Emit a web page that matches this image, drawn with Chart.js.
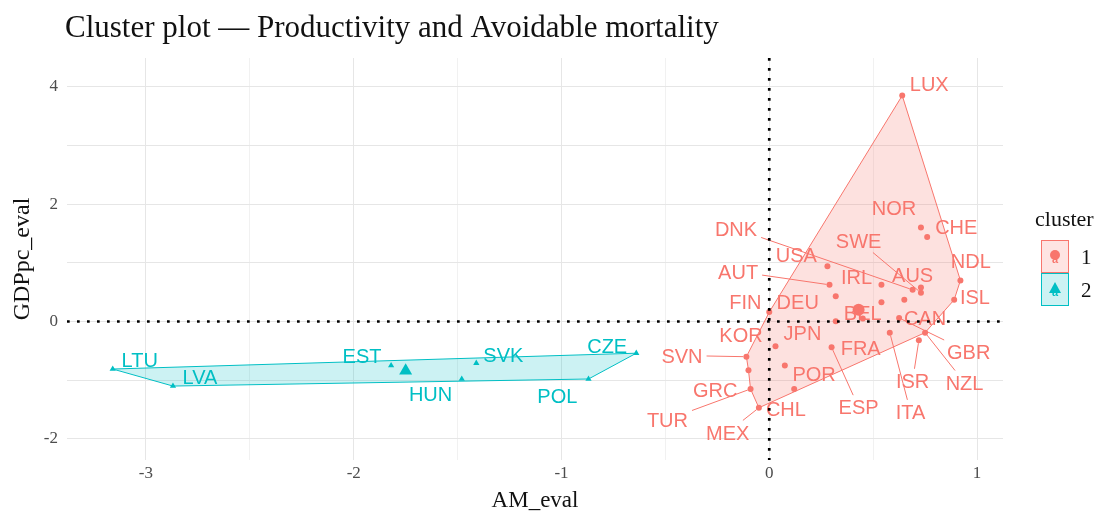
<!DOCTYPE html>
<html>
<head>
<meta charset="utf-8">
<title>Cluster plot</title>
<script src="https://cdn.jsdelivr.net/npm/chart.js@4.4.1/dist/chart.umd.min.js"></script>
<style>
  html, body { margin: 0; padding: 0; background: #ffffff; }
  #wrap { width: 1107px; height: 518px; }
</style>
</head>
<body>
<div id="wrap"><canvas id="clusterChart" width="1107" height="518"></canvas></div>
<script>
// --- dados ---
const paises1 = ['LUX','NOR','CHE','USA','AUT','DEU','IRL','KOR','CAN','DNK','AUS','SWE','NDL','ISL','FIN',
                 'BEL','FRA','GBR','ITA','NZL','ISR','JPN','ESP','POR','SVN','GRC','TUR','MEX','CHL'];
const am1  = [0.64, 0.73, 0.76, 0.28, 0.29, 0.32, 0.54, 0.54, 0.65, 0.69, 0.73, 0.73, 0.92, 0.89, 0.00,
              0.45, 0.32, 0.625, 0.58, 0.75, 0.72, 0.03, 0.30, 0.075, -0.11, -0.10, -0.09, -0.05, 0.12];
const gdp1 = [3.85, 1.60, 1.44, 0.94, 0.625, 0.43, 0.625, 0.33, 0.37, 0.54, 0.58, 0.49, 0.70, 0.37, 0.16,
              0.05, 0.005, 0.06, -0.19, -0.19, -0.32, -0.42, -0.44, -0.75, -0.60, -0.83, -1.15, -1.47, -1.15];

const paises2 = ['LTU','LVA','EST','SVK','HUN','CZE','POL'];
const am2  = [-3.16, -2.87, -1.82, -1.41, -1.48, -0.64, -0.87];
const gdp2 = [-0.81, -1.10, -0.75, -0.71, -0.98, -0.54, -0.98];

const centro1 = { x: 0.43, y: 0.20 };
const centro2 = { x: -1.75, y: -0.84 };

// contorno (convex hull) de cada cluster
const contorno1 = ['LUX','NDL','ISL','NZL','MEX','TUR','GRC','SVN','FIN'];
const contorno2 = ['LTU','LVA','POL','CZE'];

const ticksX = [-3, -2, -1, 0, 1];
const ticksY = [-2, 0, 2, 4];

// posição dos rótulos (saída do repel, em unidades dos eixos)
const posRotulo = {
  LUX:[0.77,4.05], NOR:[0.60,1.93], CHE:[0.90,1.61], DNK:[-0.16,1.58], SWE:[0.43,1.38], USA:[0.13,1.14],
  AUT:[-0.15,0.85], IRL:[0.42,0.77], AUS:[0.69,0.79], NDL:[0.97,1.04], ISL:[0.99,0.42], FIN:[-0.115,0.34],
  DEU:[0.137,0.34], BEL:[0.45,0.155], CAN:[0.75,0.07], KOR:[-0.136,-0.23], JPN:[0.16,-0.20], FRA:[0.44,-0.44],
  SVN:[-0.42,-0.58], GBR:[0.96,-0.52], POR:[0.216,-0.89], ISR:[0.69,-1.01], NZL:[0.94,-1.04], GRC:[-0.26,-1.17],
  CHL:[0.08,-1.48], ESP:[0.43,-1.46], ITA:[0.68,-1.54], TUR:[-0.49,-1.67], MEX:[-0.20,-1.89],
  LTU:[-3.03,-0.66], LVA:[-2.74,-0.95], EST:[-1.96,-0.58], SVK:[-1.28,-0.56], HUN:[-1.63,-1.23],
  CZE:[-0.78,-0.41], POL:[-1.02,-1.26]
};
const comLinha = ['DNK','SWE','AUT','SVN','TUR','MEX','ESP','ITA','ISR','GBR','NZL'];

const VERMELHO = '#F8766D';
const TURQUESA = '#00BFC4';
const SERIF = '"Liberation Serif", "DejaVu Serif", serif';
const SANS = '"Liberation Sans", Arial, sans-serif';

function pontos(nomes, xs, ys) {
    return nomes.map((n, i) => ({ x: xs[i], y: ys[i], nome: n }));
}
function poligono(lista, nomes, xs, ys) {
    const pts = lista.map(n => { const i = nomes.indexOf(n); return { x: xs[i], y: ys[i] }; });
    pts.push(pts[0]);
    return pts;
}
function rotuloInteiro(lista) {
    return v => {
        const r = Math.round(v);
        return (Math.abs(v - r) < 1e-9 && lista.includes(r)) ? String(r) : '';
    };
}

const pts1 = pontos(paises1, am1, gdp1);
const pts2 = pontos(paises2, am2, gdp2);

// --- plugin: rótulos, linhas pontilhadas, título e legenda ---
const decoracao = {
    id: 'decoracao',
    afterDatasetsDraw(chart) {
        const { ctx, chartArea: a, scales: { x, y } } = chart;
        ctx.save();
        ctx.font = '20px ' + SANS;
        const grupos = [[pts1, VERMELHO], [pts2, TURQUESA]];
        grupos.forEach(([lista, cor]) => {
            lista.forEach(p => {
                const pos = posRotulo[p.nome];
                const cx = x.getPixelForValue(pos[0]);
                const cy = y.getPixelForValue(pos[1]);
                const px = x.getPixelForValue(p.x);
                const py = y.getPixelForValue(p.y);
                const w = ctx.measureText(p.nome).width;
                if (comLinha.includes(p.nome)) {
                    const dx = px - cx, dy = py - cy;
                    const t = Math.min((w / 2 + 4) / Math.abs(dx || 1e-6), 12 / Math.abs(dy || 1e-6));
                    const len = Math.hypot(dx, dy);
                    ctx.strokeStyle = cor;
                    ctx.lineWidth = 1;
                    ctx.beginPath();
                    ctx.moveTo(cx + dx * t, cy + dy * t);
                    ctx.lineTo(px - dx / len * 3, py - dy / len * 3);
                    ctx.stroke();
                }
                ctx.fillStyle = cor;
                ctx.textAlign = 'center';
                ctx.textBaseline = 'alphabetic';
                ctx.fillText(p.nome, cx, cy + 7.2);
            });
        });

        // linhas de referência em zero
        ctx.strokeStyle = '#000';
        ctx.lineWidth = 2.7;
        ctx.setLineDash([2.7, 7.3]);
        const y0 = y.getPixelForValue(0);
        const x0 = x.getPixelForValue(0);
        ctx.beginPath();
        ctx.moveTo(a.left, y0); ctx.lineTo(a.right, y0);
        ctx.moveTo(x0, a.top); ctx.lineTo(x0, a.bottom);
        ctx.stroke();
        ctx.restore();
    },
    afterDraw(chart) {
        const { ctx } = chart;
        ctx.save();
        ctx.fillStyle = '#111';
        ctx.font = '31px ' + SERIF;
        ctx.textAlign = 'left';
        ctx.textBaseline = 'alphabetic';
        ctx.fillText('Cluster plot \u2014 Productivity and Avoidable mortality', 65, 37);

        // legenda
        ctx.font = '22px ' + SERIF;
        ctx.fillText('cluster', 1035, 226);
        const itens = [['1', VERMELHO, 'circle', 240], ['2', TURQUESA, 'triangle', 273]];
        itens.forEach(([txt, cor, forma, top]) => {
            ctx.fillStyle = cor + '33';
            ctx.fillRect(1041, top, 28, 33);
            ctx.strokeStyle = cor;
            ctx.lineWidth = 1;
            ctx.strokeRect(1041.5, top + 0.5, 27, 32);
            const cx = 1055, cy = top + 16;
            ctx.fillStyle = cor;
            ctx.font = 'bold 11px ' + SANS;
            ctx.textAlign = 'center';
            ctx.fillText('a', cx, cy + 7);
            ctx.beginPath();
            if (forma === 'circle') {
                ctx.arc(cx, cy - 1, 5, 0, Math.PI * 2);
            } else {
                ctx.moveTo(cx, cy - 7); ctx.lineTo(cx + 6, cy + 4); ctx.lineTo(cx - 6, cy + 4); ctx.closePath();
            }
            ctx.fill();
            ctx.fillStyle = '#111';
            ctx.font = '21px ' + SERIF;
            ctx.textAlign = 'left';
            ctx.fillText(txt, 1081, top + 24);
        });
        ctx.restore();
    }
};

const corGrade = ctx => {
    const v = ctx.tick ? ctx.tick.value : 0;
    return Math.abs(v - Math.round(v)) < 1e-9 ? '#E6E6E6' : '#F1F1F1';
};

new Chart(document.getElementById('clusterChart'), {
    type: 'scatter',
    data: {
        datasets: [
            { type: 'line', data: poligono(contorno1, paises1, am1, gdp1), borderColor: VERMELHO, borderWidth: 1,
              backgroundColor: 'rgba(248,118,109,0.22)', fill: 'shape', pointRadius: 0, tension: 0, order: 10 },
            { type: 'line', data: poligono(contorno2, paises2, am2, gdp2), borderColor: TURQUESA, borderWidth: 1,
              backgroundColor: 'rgba(0,191,196,0.2)', fill: 'shape', pointRadius: 0, tension: 0, order: 10 },
            { data: pts1, pointStyle: 'circle', pointRadius: 3, backgroundColor: VERMELHO, borderWidth: 0, order: 2 },
            { data: pts2, pointStyle: 'triangle', pointRadius: 3.6, backgroundColor: TURQUESA, borderColor: TURQUESA, borderWidth: 0, order: 2 },
            { data: [centro1], pointStyle: 'circle', pointRadius: 6, backgroundColor: VERMELHO, borderWidth: 0, order: 1 },
            { data: [centro2], pointStyle: 'triangle', pointRadius: 7.5, backgroundColor: TURQUESA, borderColor: TURQUESA, borderWidth: 0, order: 1 }
        ]
    },
    options: {
        responsive: false,
        animation: false,
        devicePixelRatio: 1,
        layout: { padding: { top: 58, right: 104, left: 0, bottom: 0 } },
        plugins: { legend: { display: false }, tooltip: { enabled: false }, title: { display: false } },
        scales: {
            x: {
                // max não múltiplo exato do passo, senão o Chart.js desloca os ticks
                type: 'linear', position: 'bottom', min: -3.38, max: 1.125,
                afterFit: s => { s.height = 58; },
                border: { display: false },
                grid: { color: corGrade, lineWidth: 1, drawTicks: false },
                ticks: {
                    stepSize: 0.5, includeBounds: false, autoSkip: false, maxRotation: 0, padding: 3,
                    color: '#4D4D4D', font: { family: SERIF, size: 17 },
                    callback: rotuloInteiro(ticksX)
                },
                title: { display: true, text: 'AM_eval', color: '#111', font: { family: SERIF, size: 23 }, padding: { top: 0, bottom: 3 } }
            },
            y: {
                type: 'linear', position: 'left', min: -2.36, max: 4.49,
                afterFit: s => { s.width = 67; },
                border: { display: false },
                grid: { color: corGrade, lineWidth: 1, drawTicks: false },
                ticks: {
                    stepSize: 1, includeBounds: false, autoSkip: false, padding: 9,
                    color: '#4D4D4D', font: { family: SERIF, size: 17 },
                    callback: rotuloInteiro(ticksY)
                },
                title: { display: true, text: 'GDPpc_eval', color: '#111', font: { family: SERIF, size: 24 }, padding: { top: 8, bottom: 0 } }
            }
        }
    },
    plugins: [decoracao]
});
</script>
</body>
</html>
